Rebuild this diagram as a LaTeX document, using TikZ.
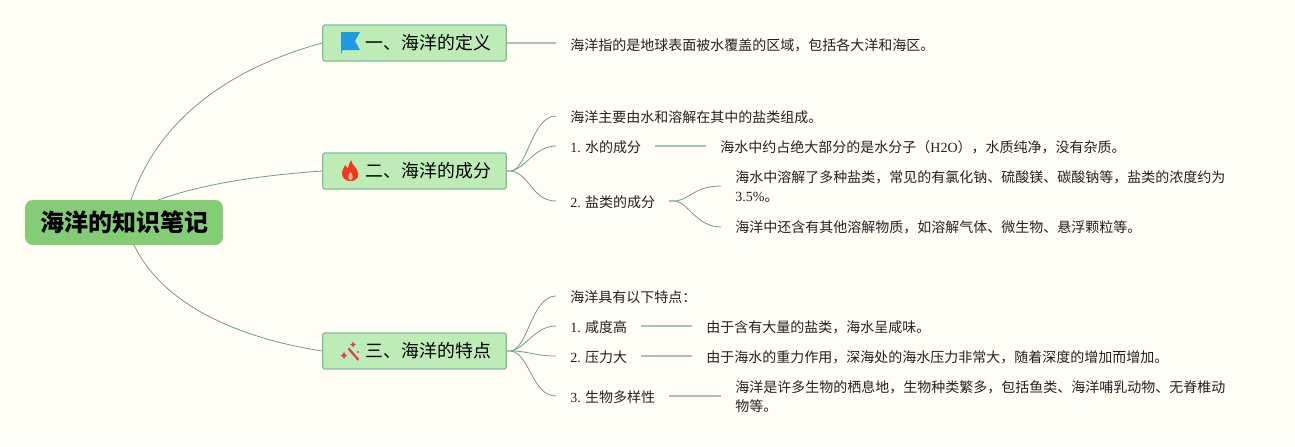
\documentclass[tikz,border=0pt]{standalone}
\usepackage{fontspec}
\setmainfont{Noto Sans CJK SC}
\newfontfamily\latf{Liberation Serif}
\newcommand{\lat}[1]{{\latf #1}}
\definecolor{bgc}{HTML}{FFFDF4}
\definecolor{rootc}{HTML}{85CC76}
\definecolor{branchc}{HTML}{BDECB6}
\definecolor{branchl}{HTML}{82BC9E}
\definecolor{linec}{HTML}{6F9F8B}
\definecolor{linel}{HTML}{A4C6B5}
\definecolor{txt}{HTML}{222222}
\definecolor{flagc}{HTML}{1E9BDD}
\definecolor{flamec}{HTML}{EE3A1C}
\definecolor{flamei}{HTML}{F8B49A}
\definecolor{wandc}{HTML}{DE3F62}
\tikzset{
  rootnode/.style={fill=rootc,rounded corners=6pt,inner sep=0pt,minimum width=148.5pt,minimum height=33.75pt,font=\fontsize{18pt}{22pt}\selectfont\bfseries,text=black},
  branchnode/.style={fill=branchc,draw=branchl,line width=0.9pt,rounded corners=1.5pt,inner xsep=0pt,inner ysep=0pt,minimum height=27pt,font=\fontsize{13.4pt}{16pt}\selectfont,text=black},
  leaf/.style={inner xsep=10.6pt,inner ysep=0pt,font=\fontsize{10.5pt}{14.25pt}\selectfont,text=txt,align=left},
  curve/.style={draw=linec,line width=0.6pt},
  straight/.style={draw=linel,line width=1pt},
}
\newcommand{\brtext}[1]{\hspace*{32.25pt}#1\hspace*{11.5pt}}
\begin{document}
\begin{tikzpicture}[x=0.75pt,y=-0.75pt]
\useasboundingbox (0,0) rectangle (1295,446);
\fill[bgc] (0,0) rectangle (1295,446);

% root and branches
\node[rootnode] (root) at (124,222.5) {海洋的知识笔记};
\node[branchnode] (b1) at (414.5,43) {\brtext{一、海洋的定义}};
\node[branchnode] (b2) at (414.5,171) {\brtext{二、海洋的成分}};
\node[branchnode] (b3) at (414.5,351) {\brtext{三、海洋的特点}};

% root anchors
\coordinate (r1) at (131,200);
\coordinate (r2) at (158,200);
\coordinate (r3) at (134,245);
\draw[curve] (r1) .. controls (165,100) and (260,60) .. (b1.west);
\draw[curve] (r2) .. controls (205,183) and (265,175) .. (b2.west);
\draw[curve] (r3) .. controls (165,310) and (250,340) .. (b3.west);

% section one
\node[leaf,anchor=west] (a1) at (556,45) {海洋指的是地球表面被水覆盖的区域，包括各大洋和海区。};
\draw[straight] (b1.east) -- (a1.west |- b1.east);

% section two
\node[leaf,anchor=west] (c1) at (556,117) {海洋主要由水和溶解在其中的盐类组成。};
\node[leaf,anchor=west] (c2) at (556,147) {\lat{1.} 水的成分};
\node[leaf,anchor=west] (c3) at (556,202) {\lat{2.} 盐类的成分};
\node[leaf,anchor=west] (c2a) at (706,147) {海水中约占绝大部分的是水分子（\lat{H2O}），水质纯净，没有杂质。};
\node[leaf,anchor=west] (c3a) at (721,187) {海水中溶解了多种盐类，常见的有氯化钠、硫酸镁、碳酸钠等，盐类的浓度约为\\\lat{3.5\%}。};
\node[leaf,anchor=west] (c3b) at (721,227) {海洋中还含有其他溶解物质，如溶解气体、微生物、悬浮颗粒等。};
\coordinate (s2) at (511,171);
\draw[straight] (b2.east) -- (s2);
\draw[curve] (s2) .. controls (528,168) and (532,116) .. (c1.west |- 0,116);
\draw[curve] (s2) .. controls (526,168) and (535,146) .. (c2.west |- 0,146);
\draw[curve] (s2) .. controls (530,174) and (532,201) .. (c3.west |- 0,201);
\draw[straight] (c2.east |- 0,146) -- (c2a.west |- 0,146);
\coordinate (s3o) at (676,201);
\draw[straight] (c3.east |- 0,201) -- (s3o);
\draw[curve] (s3o) .. controls (690,199) and (695,186) .. (c3a.west |- 0,186);
\draw[curve] (s3o) .. controls (688,203) and (697,227) .. (c3b.west |- 0,227);

% section three
\node[leaf,anchor=west] (d1) at (556,297) {海洋具有以下特点：};
\node[leaf,anchor=west] (d2) at (556,327) {\lat{1.} 咸度高};
\node[leaf,anchor=west] (d3) at (556,357) {\lat{2.} 压力大};
\node[leaf,anchor=west] (d4) at (556,397) {\lat{3.} 生物多样性};
\node[leaf,anchor=west] (d2a) at (692,327) {由于含有大量的盐类，海水呈咸味。};
\node[leaf,anchor=west] (d3a) at (692,357) {由于海水的重力作用，深海处的海水压力非常大，随着深度的增加而增加。};
\node[leaf,anchor=west] (d4a) at (721,397) {海洋是许多生物的栖息地，生物种类繁多，包括鱼类、海洋哺乳动物、无脊椎动\\物等。};
\coordinate (s3) at (511,351);
\draw[straight] (b3.east) -- (s3);
\draw[curve] (s3) .. controls (528,348) and (532,296) .. (d1.west |- 0,296);
\draw[curve] (s3) .. controls (526,348) and (535,326) .. (d2.west |- 0,326);
\draw[curve] (s3) .. controls (528,351) and (535,356) .. (d3.west |- 0,356);
\draw[curve] (s3) .. controls (530,354) and (532,396) .. (d4.west |- 0,396);
\draw[straight] (d2.east |- 0,326) -- (d2a.west |- 0,326);
\draw[straight] (d3.east |- 0,356) -- (d3a.west |- 0,356);
\draw[straight] (d4.east |- 0,396) -- (d4a.west |- 0,396);

% flag icon
\fill[flagc] (341,32) -- (360,32) -- (355,41) -- (360,50) -- (342,50) -- (342,53) -- (341,53) -- cycle;
% flame icon
\fill[flamec] (351,160) .. controls (352,165) and (355,166) .. (357,170)
  .. controls (360,175) and (358,181) .. (350.5,181)
  .. controls (343,181) and (340,175) .. (343,169)
  .. controls (344,167) and (345,166) .. (345.5,165)
  .. controls (346.5,167) and (347,168) .. (348,168)
  .. controls (349,165) and (349,163) .. (351,160) -- cycle;
\fill[flamei] (350.5,172) .. controls (353,175) and (354,179) .. (350.5,180) .. controls (347,179) and (348,175) .. (350.5,172) -- cycle;
% wand icon
\draw[wandc,line width=1.7pt,line cap=round] (349,349) -- (358,359.5);
\fill[wandc] (353,341.5) -- (354,343.5) -- (356,344.5) -- (354,345.5) -- (353,347.5) -- (352,345.5) -- (350,344.5) -- (352,343.5) -- cycle;
\fill[wandc] (344,352) -- (345.5,354.5) -- (347.5,355.5) -- (345.5,356.5) -- (344,359) -- (342.5,356.5) -- (340.5,355.5) -- (342.5,354.5) -- cycle;
\fill[wandc] (358,352) circle (1.2);
\end{tikzpicture}
\end{document}
